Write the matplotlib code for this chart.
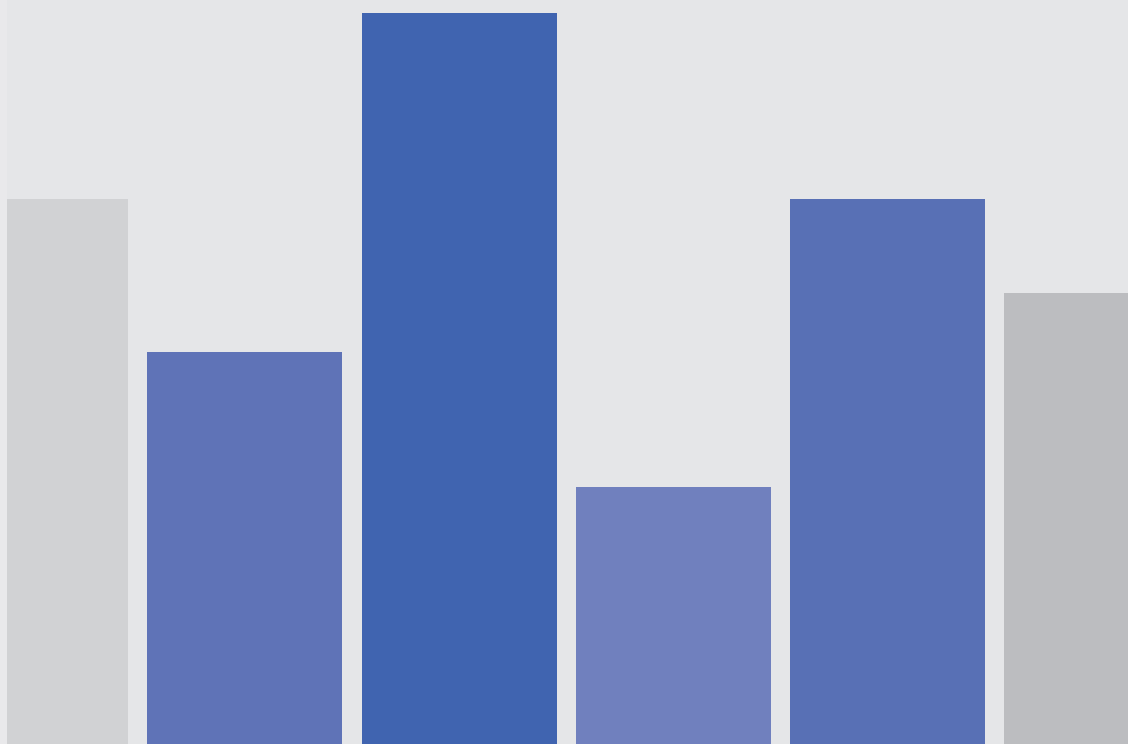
import matplotlib
matplotlib.use("Agg")
import matplotlib.pyplot as plt

categories = ["A", "B", "C", "D", "E", "F"]
values = [73.3, 52.7, 98.3, 34.5, 73.3, 60.6]
colors = ["#d1d2d4", "#5f73b7", "#4064b0", "#7080be", "#5870b5", "#bcbdc0"]

STEP = 214.2   # pixels per category
X0 = 30.7      # pixel center of first category

fig = plt.figure(figsize=(11.28, 7.44), dpi=100)
fig.patch.set_facecolor("#e9e9eb")
ax = fig.add_axes([7 / 1128, 0, 1121 / 1128, 1])
ax.set_facecolor("#e5e6e8")

x = list(range(len(categories)))
ax.bar(x, values, width=195 / STEP, color=colors, linewidth=0)

ax.set_xlim((7 - X0) / STEP, (1128 - X0) / STEP)
ax.set_ylim(0, 100)
for s in ax.spines.values():
    s.set_visible(False)
ax.set_xticks([])
ax.set_yticks([])

fig.savefig("out.png", dpi=100, facecolor=fig.get_facecolor())
